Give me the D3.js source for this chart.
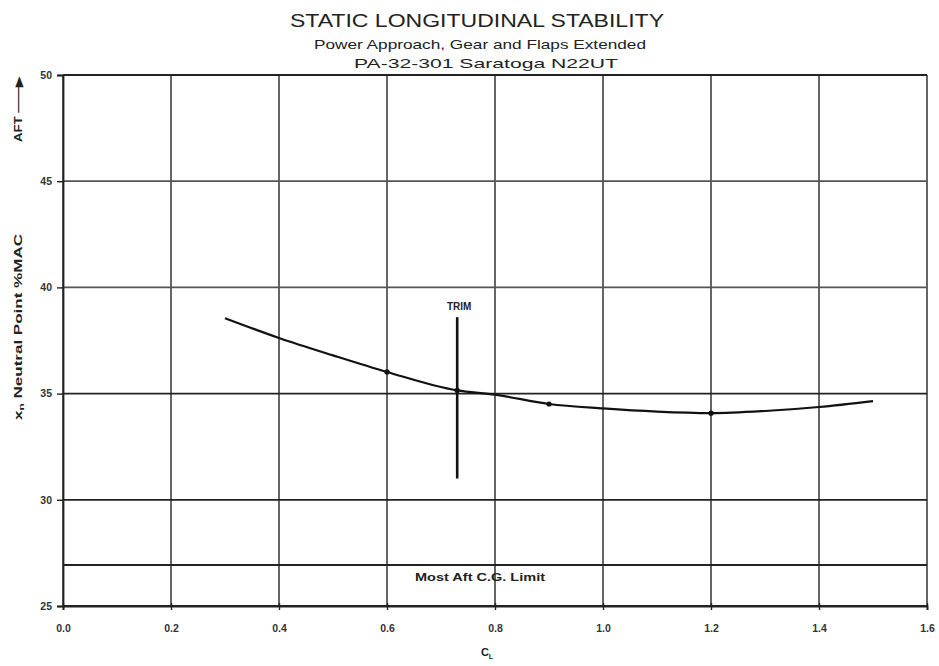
<!DOCTYPE html>
<html>
<head>
<meta charset="utf-8">
<script src="https://cdn.jsdelivr.net/npm/d3@7"></script>
<style>
  body { margin: 0; background: #fff; }
  svg { font-family: "Liberation Sans", Arial, sans-serif; }
</style>
</head>
<body>
<div id="chart"></div>
<script>
// values
var clTicks = [0.0, 0.2, 0.4, 0.6, 0.8, 1.0, 1.2, 1.4, 1.6];
var npTicks = [25, 30, 35, 40, 45, 50];
var curveCL = [0.3, 0.4, 0.5, 0.6, 0.73, 0.8, 0.9, 1.0, 1.1, 1.2, 1.3, 1.4, 1.5];
var curveNP = [38.55, 37.62, 36.8, 36.02, 35.15, 34.95, 34.51, 34.3, 34.15, 34.08, 34.18, 34.37, 34.65];
var markCL = [0.6, 0.73, 0.9, 1.2];
var markNP = [36.02, 35.15, 34.51, 34.08];
var trimCL = 0.73;
var trimNP = [31.0, 38.6];
var aftLimit = 26.93;

var width = 939, height = 666;
var margin = {top: 75, right: 12, bottom: 60, left: 63};

var svg = d3.select("#chart").append("svg")
    .attr("width", width)
    .attr("height", height);

var x = d3.scaleLinear().domain([0, 1.6]).range([margin.left, width - margin.right]);
var y = d3.scaleLinear().domain([25, 50]).range([height - margin.bottom, margin.top]);

// grid
var g = svg.append("g");
g.selectAll("line.v").data(clTicks).enter().append("line")
    .attr("x1", function(d){ return x(d); }).attr("x2", function(d){ return x(d); })
    .attr("y1", y(25)).attr("y2", y(50))
    .attr("stroke", "#333").attr("stroke-width", 1.5);
g.selectAll("line.h").data(npTicks).enter().append("line")
    .attr("x1", x(0)).attr("x2", x(1.6))
    .attr("y1", function(d){ return y(d); }).attr("y2", function(d){ return y(d); })
    .attr("stroke", function(d){ return (d == 40 || d == 45) ? "#555" : "#222"; })
    .attr("stroke-width", 1.8);

// axes
var xAxis = d3.axisBottom(x).tickValues(clTicks).tickFormat(d3.format(".1f")).tickSize(4).tickPadding(15);
var yAxis = d3.axisLeft(y).tickValues(npTicks).tickFormat(d3.format("d")).tickSize(6).tickPadding(5);

var gx = svg.append("g").attr("transform", "translate(0," + y(25) + ")").call(xAxis);
var gy = svg.append("g").attr("transform", "translate(" + x(0) + ",0)").call(yAxis);
[gx, gy].forEach(function(a){
  a.select(".domain").attr("stroke", "#222").attr("stroke-width", 1.8);
  a.selectAll(".tick line").attr("stroke", "#222").attr("stroke-width", 1.4);
  a.selectAll("text").attr("font-size", 10.5).attr("font-weight", "bold").attr("fill", "#333");
});
gx.selectAll(".tick line").attr("y1", -3);

// aft CG limit
svg.append("line")
    .attr("x1", x(0)).attr("x2", x(1.6))
    .attr("y1", y(aftLimit)).attr("y2", y(aftLimit))
    .attr("stroke", "#222").attr("stroke-width", 1.8);
svg.append("text")
    .attr("x", 415).attr("y", y(aftLimit) + 16)
    .attr("font-size", 10).attr("font-weight", "bold")
    .attr("textLength", 130).attr("lengthAdjust", "spacingAndGlyphs")
    .attr("fill", "#222")
    .text("Most Aft C.G. Limit");

// neutral point curve
var pts = curveCL.map(function(c, i){ return [c, curveNP[i]]; });
var line = d3.line()
    .x(function(d){ return x(d[0]); })
    .y(function(d){ return y(d[1]); })
    .curve(d3.curveMonotoneX);
svg.append("path").datum(pts)
    .attr("d", line)
    .attr("fill", "none").attr("stroke", "#111").attr("stroke-width", 2.2);

svg.selectAll("circle.m").data(markCL).enter().append("circle")
    .attr("cx", function(d){ return x(d); })
    .attr("cy", function(d, i){ return y(markNP[i]); })
    .attr("r", 2.6).attr("fill", "#111");

// trim line
svg.append("line")
    .attr("x1", x(trimCL)).attr("x2", x(trimCL))
    .attr("y1", y(trimNP[0])).attr("y2", y(trimNP[1]))
    .attr("stroke", "#111").attr("stroke-width", 2.6);
svg.append("text")
    .attr("x", x(trimCL) + 2).attr("y", y(trimNP[1]) - 7)
    .attr("text-anchor", "middle").attr("font-size", 10).attr("font-weight", "bold")
    .attr("fill", "#222")
    .text("TRIM");

// titles
svg.append("text").attr("x", 290).attr("y", 27)
    .attr("font-size", 19).attr("fill", "#222")
    .attr("textLength", 374).attr("lengthAdjust", "spacingAndGlyphs")
    .text("STATIC LONGITUDINAL STABILITY");
svg.append("text").attr("x", 314).attr("y", 49)
    .attr("font-size", 13).attr("fill", "#222")
    .attr("textLength", 332).attr("lengthAdjust", "spacingAndGlyphs")
    .text("Power Approach, Gear and Flaps Extended");
svg.append("text").attr("x", 354).attr("y", 68)
    .attr("font-size", 13).attr("fill", "#222")
    .attr("textLength", 264).attr("lengthAdjust", "spacingAndGlyphs")
    .text("PA-32-301 Saratoga  N22UT");

// x label
var xl = svg.append("text").attr("x", 487).attr("y", 656)
    .attr("text-anchor", "middle").attr("font-size", 11).attr("font-weight", "bold").attr("fill", "#222");
xl.append("tspan").text("C");
xl.append("tspan").attr("font-size", 7).attr("dy", 3).text("L");

// y label
var yl = svg.append("text")
    .attr("transform", "translate(22,420) rotate(-90)")
    .attr("font-size", 10).attr("font-weight", "bold").attr("fill", "#222")
    .attr("textLength", 186).attr("lengthAdjust", "spacingAndGlyphs");
yl.append("tspan").text("x");
yl.append("tspan").attr("font-size", 7).attr("dy", 2).text("n");
yl.append("tspan").attr("dy", -2).text(" Neutral Point %MAC");

svg.append("text")
    .attr("transform", "translate(22,142) rotate(-90)")
    .attr("font-size", 10).attr("font-weight", "bold").attr("fill", "#222")
    .attr("textLength", 66).attr("lengthAdjust", "spacingAndGlyphs")
    .text("AFT \u2014\u2014\u25B6");
</script>
</body>
</html>
